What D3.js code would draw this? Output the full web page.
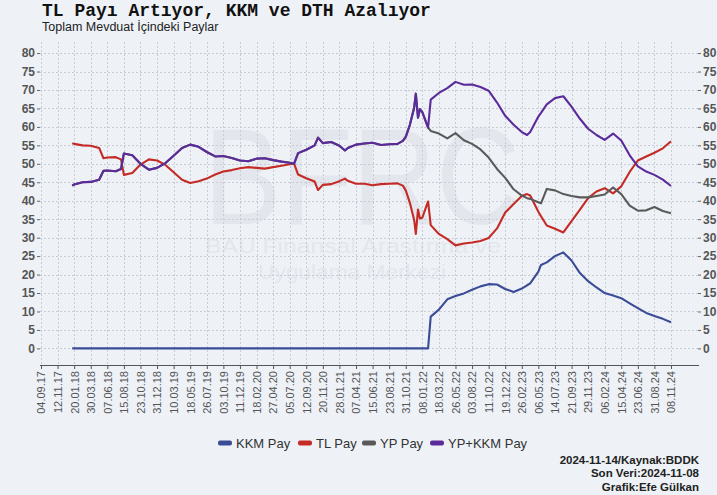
<!DOCTYPE html>
<html>
<head>
<meta charset="utf-8">
<script src="https://cdn.jsdelivr.net/npm/d3@7"></script>
<style>
  html, body { margin: 0; padding: 0; background: #eef2f7; }
  svg { display: block; font-family: "Liberation Sans", Arial, sans-serif; }
</style>
</head>
<body>
<svg id="chart" width="717" height="495"></svg>
<script>
// weekly readings, thinned out (values are % of total deposits)
var dates = [
  "2018-01-12","2018-01-20","2018-02-24","2018-03-30","2018-05-04","2018-05-22","2018-06-07","2018-07-12",
  "2018-08-03","2018-08-15","2018-09-19","2018-10-23","2018-11-27","2018-12-31","2019-02-04","2019-03-10",
  "2019-04-14","2019-05-18","2019-06-22","2019-07-26","2019-08-30","2019-10-03","2019-11-07","2019-12-11",
  "2020-01-15","2020-02-18","2020-03-24","2020-04-27","2020-06-01","2020-07-05","2020-07-23","2020-08-09",
  "2020-09-12","2020-10-17","2020-10-31","2020-11-20","2020-12-25","2021-01-28","2021-02-20","2021-03-04",
  "2021-04-07","2021-05-12","2021-06-15","2021-07-20","2021-08-23","2021-09-27","2021-10-19","2021-10-31",
  "2021-11-17","2021-12-05","2021-12-12","2021-12-21","2021-12-29","2022-01-08","2022-02-01","2022-02-12",
  "2022-03-18","2022-04-22","2022-05-26","2022-06-30","2022-08-03","2022-09-07","2022-10-11","2022-11-15",
  "2022-12-19","2023-01-23","2023-02-26","2023-03-20","2023-04-02","2023-05-06","2023-05-17","2023-06-10",
  "2023-07-14","2023-08-18","2023-09-21","2023-10-26","2023-11-29","2024-01-03","2024-02-06","2024-03-12",
  "2024-04-15","2024-05-20","2024-06-23","2024-07-28","2024-08-31","2024-10-05","2024-11-08"
];

var tlPay = [
  55.6,55.4,55.0,54.9,54.3,51.5,51.7,51.8,
  51.2,47.0,47.5,49.8,51.2,50.9,49.7,47.7,
  45.7,44.8,45.3,46.0,47.1,47.9,48.3,48.8,
  49.1,48.9,48.7,49.1,49.5,49.9,50.1,47.1,
  46.1,45.2,42.9,44.3,44.5,45.3,46.0,45.4,
  44.6,44.6,44.2,44.5,44.6,44.7,44.1,42.8,
  39.5,34.8,31.0,37.6,35.2,35.4,39.8,33.4,
  31.0,29.6,27.9,28.4,28.7,29.1,29.9,32.5,
  36.8,39.1,41.3,41.8,41.4,37.0,35.8,33.3,
  32.4,31.4,34.5,37.6,40.7,42.5,43.4,42.0,
  43.9,47.8,50.9,52.0,53.0,54.2,56.1
];

var ypKkmPay = [
  44.1,44.4,45.0,45.1,45.7,48.1,48.2,48.0,
  48.6,52.8,52.3,50.0,48.4,48.9,50.2,52.2,
  54.3,55.2,54.6,53.2,52.0,52.1,51.6,50.9,
  50.7,51.4,51.5,51.0,50.6,50.3,50.0,52.9,
  53.8,55.0,57.1,55.6,55.9,54.9,53.6,54.3,
  55.2,55.5,55.7,55.1,55.3,55.4,56.2,57.3,
  60.5,65.2,69.0,62.5,64.8,64.0,59.8,67.4,
  69.2,70.5,72.2,71.4,71.5,70.8,69.8,66.6,
  63.0,60.6,58.6,57.8,58.6,62.8,63.8,66.1,
  67.8,68.3,65.5,62.2,59.5,57.8,56.5,58.2,
  56.3,52.3,49.3,47.9,47.0,45.7,44.0
];

var ypPay = [
  44.1,44.4,45.0,45.1,45.7,48.1,48.2,48.0,
  48.6,52.8,52.3,50.0,48.4,48.9,50.2,52.2,
  54.3,55.2,54.6,53.2,52.0,52.1,51.6,50.9,
  50.7,51.4,51.5,51.0,50.6,50.3,50.0,52.9,
  53.8,55.0,57.1,55.6,55.9,54.9,53.6,54.3,
  55.2,55.5,55.7,55.1,55.3,55.4,56.2,57.3,
  60.5,65.2,69.0,62.5,64.8,64.0,59.8,58.9,
  58.2,56.9,58.3,56.4,55.4,53.9,51.7,48.6,
  46.2,43.1,41.4,40.7,40.5,39.6,39.3,43.2,
  42.8,41.8,41.3,40.9,40.9,41.3,41.7,43.6,
  41.8,38.7,37.3,37.4,38.3,37.2,36.6
];

var kkmPay = [
  0,0,0,0,0,0,0,0,
  0,0,0,0,0,0,0,0,
  0,0,0,0,0,0,0,0,
  0,0,0,0,0,0,0,0,
  0,0,0,0,0,0,0,0,
  0,0,0,0,0,0,0,0,
  0,0,0,0,0,0,0,8.6,
  10.5,13.3,14.2,14.9,15.9,16.8,17.4,17.3,
  16.1,15.3,16.2,17.1,17.6,20.8,22.6,23.3,
  25.0,26.0,23.8,20.4,18.2,16.5,15.0,14.3,
  13.6,12.2,10.9,9.6,8.8,8.0,7.1
];

var tickLabels = [
  "04.09.17","12.11.17","20.01.18","30.03.18","07.06.18","15.08.18","23.10.18","31.12.18",
  "10.03.19","18.05.19","26.07.19","03.10.19","11.12.19","18.02.20","27.04.20","05.07.20",
  "12.09.20","20.11.20","28.01.21","07.04.21","15.06.21","23.08.21","31.10.21","08.01.22",
  "18.03.22","26.05.22","03.08.22","11.10.22","19.12.22","26.02.23","06.05.23","14.07.23",
  "21.09.23","29.11.23","06.02.24","15.04.24","23.06.24","31.08.24","08.11.24"
];

var yTicks = [0,5,10,15,20,25,30,35,40,45,50,55,60,65,70,75,80];

var seriesNames = ["KKM Pay", "TL Pay", "YP Pay", "YP+KKM Pay"];
var seriesColors = ["#3a4c97", "#c52b26", "#5a5a5a", "#5c2b9b"];
var seriesValues = [kkmPay, tlPay, ypPay, ypKkmPay];

(function() {
  var parseDay = d3.timeParse("%Y-%m-%d");
  var parseTick = d3.timeParse("%d.%m.%y");
  var tickDates = tickLabels.map(parseTick);
  var dayDates = dates.map(parseDay);

  var svg = d3.select("#chart");
  var pL = 40, pR = 698, pT = 42, pB = 365;

  svg.append("rect").attr("width", 717).attr("height", 495).attr("fill", "#eef2f7");

  var x = d3.scaleTime()
    .domain([tickDates[0], tickDates[tickDates.length - 1]])
    .range([41, 671]);
  var y = d3.scaleLinear().domain([-4.5, 83]).range([pB, pT]);

  // watermark
  var wm = svg.append("g").attr("fill", "#e3e7ed");
  wm.append("text").attr("x", 204).attr("y", 224)
    .attr("font-size", 138).attr("textLength", 316).attr("lengthAdjust", "spacingAndGlyphs")
    .text("BFRC");
  wm.append("text").attr("x", 205).attr("y", 253)
    .attr("font-size", 21).attr("textLength", 296).attr("lengthAdjust", "spacingAndGlyphs")
    .text("BAU Finansal Araştırma ve");
  wm.append("text").attr("x", 258).attr("y", 279)
    .attr("font-size", 21).attr("textLength", 188).attr("lengthAdjust", "spacingAndGlyphs")
    .text("Uygulama Merkezi");

  // grid
  var grid = svg.append("g").attr("stroke", "#c8cdd5").attr("stroke-width", 1).attr("stroke-dasharray", "2,2");
  grid.selectAll("line.h").data(yTicks).enter().append("line")
    .attr("class", "h")
    .attr("x1", pL).attr("x2", pR)
    .attr("y1", function(d) { return Math.round(y(d)) + 0.5; })
    .attr("y2", function(d) { return Math.round(y(d)) + 0.5; });
  grid.selectAll("line.v").data(tickDates).enter().append("line")
    .attr("class", "v")
    .attr("y1", pT).attr("y2", pB)
    .attr("x1", function(d) { return Math.round(x(d)) + 0.5; })
    .attr("x2", function(d) { return Math.round(x(d)) + 0.5; });

  // axes
  var xAxis = svg.append("g").attr("transform", "translate(0," + pB + ")")
    .call(d3.axisBottom(x).tickValues(tickDates).tickSize(4).tickSizeOuter(0)
      .tickFormat(function(d, i) { return tickLabels[i]; }));
  xAxis.select(".domain").remove();
  xAxis.selectAll(".tick line").attr("stroke", "#555");
  xAxis.selectAll("text")
    .attr("transform", "rotate(-90)")
    .attr("x", -6).attr("y", 0).attr("dy", "0.35em")
    .style("text-anchor", "end")
    .attr("font-size", 11).attr("fill", "#555");
  svg.append("line").attr("x1", pL).attr("x2", pR + 1)
    .attr("y1", pB + 0.5).attr("y2", pB + 0.5)
    .attr("stroke", "#555").attr("stroke-width", 1);

  var yLeft = svg.append("g").attr("transform", "translate(" + pL + ",0)")
    .call(d3.axisLeft(y).tickValues(yTicks).tickSize(3).tickPadding(2));
  var yRight = svg.append("g").attr("transform", "translate(" + pR + ",0)")
    .call(d3.axisRight(y).tickValues(yTicks).tickSize(3).tickPadding(2));
  [yLeft, yRight].forEach(function(g) {
    g.select(".domain").remove();
    g.selectAll(".tick line").attr("stroke", "#666");
    g.selectAll("text").attr("font-size", 12).attr("font-weight", "bold").attr("fill", "#555");
  });

  // lines
  var line = d3.line()
    .x(function(d) { return x(d[0]); })
    .y(function(d) { return y(d[1]); });

  seriesValues.forEach(function(vals, i) {
    var pts = vals.map(function(v, j) { return [dayDates[j], v]; });
    svg.append("path")
      .datum(pts)
      .attr("d", line)
      .attr("fill", "none")
      .attr("stroke", seriesColors[i])
      .attr("stroke-width", 2.1)
      .attr("stroke-linejoin", "round");
  });

  // title
  svg.append("text").attr("x", 42).attr("y", 16)
    .attr("font-family", "'Liberation Mono', 'Courier New', monospace")
    .attr("font-weight", "bold").attr("font-size", 18).attr("fill", "#111")
    .text("TL Payı Artıyor, KKM ve DTH Azalıyor");
  svg.append("text").attr("x", 42).attr("y", 31)
    .attr("font-size", 12.5).attr("fill", "#222")
    .text("Toplam Mevduat İçindeki Paylar");

  // legend
  var legendX = [218, 298, 362, 430];
  var items = svg.append("g").selectAll("g").data(seriesNames).enter().append("g")
    .attr("transform", function(d, i) { return "translate(" + legendX[i] + ",443)"; });
  items.append("rect").attr("x", 0).attr("y", -2.5).attr("width", 14).attr("height", 5).attr("rx", 2)
    .attr("fill", function(d, i) { return seriesColors[i]; });
  items.append("text").attr("x", 18).attr("y", 4.6)
    .attr("font-size", 13).attr("fill", "#333")
    .text(function(d) { return d; });

  // footer
  var footer = ["2024-11-14/Kaynak:BDDK", "Son Veri:2024-11-08", "Grafik:Efe Gülkan"];
  svg.selectAll("text.foot").data(footer).enter().append("text")
    .attr("class", "foot")
    .attr("x", 699).attr("y", function(d, i) { return 464 + i * 13.3; })
    .attr("text-anchor", "end").attr("font-size", 11.5).attr("font-weight", "bold").attr("fill", "#222")
    .text(function(d) { return d; });
})();
</script>
</body>
</html>
